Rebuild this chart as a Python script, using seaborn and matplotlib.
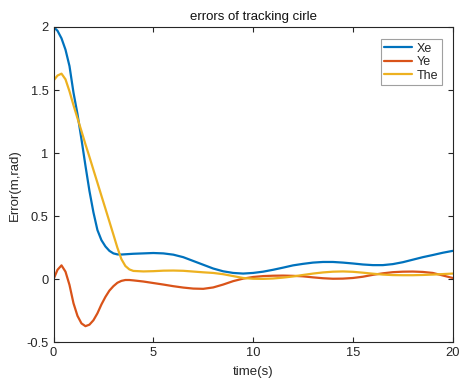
import matplotlib
matplotlib.use("Agg")
import matplotlib.pyplot as plt
import seaborn as sns
import pandas as pd

# sample times (s)
time_s = [0, 0.2, 0.4, 0.6, 0.8, 1.0, 1.2, 1.4, 1.6, 1.8, 2.0, 2.2, 2.4, 2.6, 2.8,
          3.0, 3.2, 3.4, 3.6, 3.8, 4.0, 4.5, 5.0, 5.5, 6.0, 6.5, 7.0, 7.5, 8.0,
          8.5, 9.0, 9.5, 10.0, 10.5, 11.0, 11.5, 12.0, 12.5, 13.0, 13.5, 14.0,
          14.5, 15.0, 15.5, 16.0, 16.5, 17.0, 17.5, 18.0, 18.5, 19.0, 19.5, 20.0]

# position error along x (m)
xe = [2.00, 1.97, 1.91, 1.82, 1.69, 1.48, 1.31, 1.11, 0.90, 0.70, 0.53, 0.39,
      0.31, 0.26, 0.225, 0.205, 0.197, 0.196, 0.198, 0.200, 0.202, 0.205, 0.208,
      0.205, 0.195, 0.175, 0.145, 0.115, 0.085, 0.063, 0.050, 0.045, 0.050,
      0.060, 0.075, 0.092, 0.110, 0.122, 0.132, 0.137, 0.137, 0.132, 0.125,
      0.117, 0.112, 0.112, 0.120, 0.135, 0.155, 0.175, 0.192, 0.210, 0.225]

# position error along y (m)
ye = [0.0, 0.075, 0.11, 0.06, -0.045, -0.19, -0.29, -0.35, -0.372, -0.36,
      -0.325, -0.27, -0.20, -0.14, -0.09, -0.055, -0.028, -0.013, -0.006,
      -0.006, -0.009, -0.018, -0.030, -0.042, -0.055, -0.066, -0.074, -0.076,
      -0.065, -0.042, -0.015, 0.005, 0.018, 0.025, 0.028, 0.029, 0.027, 0.023,
      0.015, 0.008, 0.004, 0.005, 0.010, 0.020, 0.035, 0.047, 0.056, 0.060,
      0.061, 0.058, 0.050, 0.030, 0.010]

# heading error (rad)
the = [1.575, 1.615, 1.63, 1.585, 1.49, 1.38, 1.277, 1.175, 1.07, 0.97, 0.867,
       0.765, 0.662, 0.56, 0.457, 0.354, 0.25, 0.16, 0.105, 0.078, 0.066, 0.062,
       0.064, 0.068, 0.069, 0.067, 0.061, 0.055, 0.050, 0.040, 0.025, 0.010,
       0.004, 0.003, 0.006, 0.013, 0.022, 0.034, 0.045, 0.054, 0.060, 0.062,
       0.059, 0.052, 0.044, 0.037, 0.033, 0.032, 0.032, 0.034, 0.037, 0.041,
       0.045]

series_names = ["Xe", "Ye", "The"]
x_ticks = [0, 5, 10, 15, 20]
y_ticks = [-0.5, 0, 0.5, 1, 1.5, 2]
y_tick_labels = ["-0.5", "0", "0.5", "1", "1.5", "2"]

df = pd.concat([
    pd.DataFrame({"time": time_s, "error": vals, "series": name})
    for name, vals in zip(series_names, [xe, ye, the])
], ignore_index=True)

sns.set_style("white")
plt.rcParams["font.family"] = ["Liberation Sans", "DejaVu Sans"]
plt.rcParams["axes.unicode_minus"] = False

fig = plt.figure(figsize=(4.59, 3.79), dpi=100)
ax = fig.add_axes([0.1166, 0.0968, 0.8697, 0.832])

palette = {"Xe": "#0072BD", "Ye": "#D95319", "The": "#EDB120"}
sns.lineplot(data=df, x="time", y="error", hue="series", hue_order=series_names,
             palette=palette, linewidth=1.6, ax=ax, legend=True)

ax.set_xlim(0, 20)
ax.set_ylim(-0.5, 2)
ax.set_xticks(x_ticks)
ax.set_xticklabels([str(t) for t in x_ticks])
ax.set_yticks(y_ticks)
ax.set_yticklabels(y_tick_labels)

for side in ["top", "right", "bottom", "left"]:
    ax.spines[side].set_visible(True)
    ax.spines[side].set_color("#262626")
    ax.spines[side].set_linewidth(0.8)

ax.tick_params(axis="both", which="both", direction="in", length=3.5, width=0.8,
               color="#262626", labelcolor="#262626", labelsize=9.3,
               top=True, right=True, bottom=True, left=True, pad=3.5)

ax.set_title("errors of tracking cirle", fontsize=9.5, color="#111111", pad=5)
ax.set_xlabel("time(s)", fontsize=9.5, color="#262626", labelpad=5)
ax.set_ylabel("Error(m,rad)", fontsize=9.5, color="#262626", labelpad=4)

handles, labels = ax.get_legend_handles_labels()
leg = ax.legend(handles, labels, loc="upper right", bbox_to_anchor=(0.972, 0.962),
                fontsize=9, frameon=True, fancybox=False, framealpha=1,
                edgecolor="#a0a0a0", handlelength=2.2, handletextpad=0.35,
                labelspacing=0.12, borderpad=0.3, borderaxespad=0)
leg.get_frame().set_linewidth(0.8)
for line in leg.get_lines():
    line.set_linewidth(1.6)

fig.savefig("out.png", dpi=100)
